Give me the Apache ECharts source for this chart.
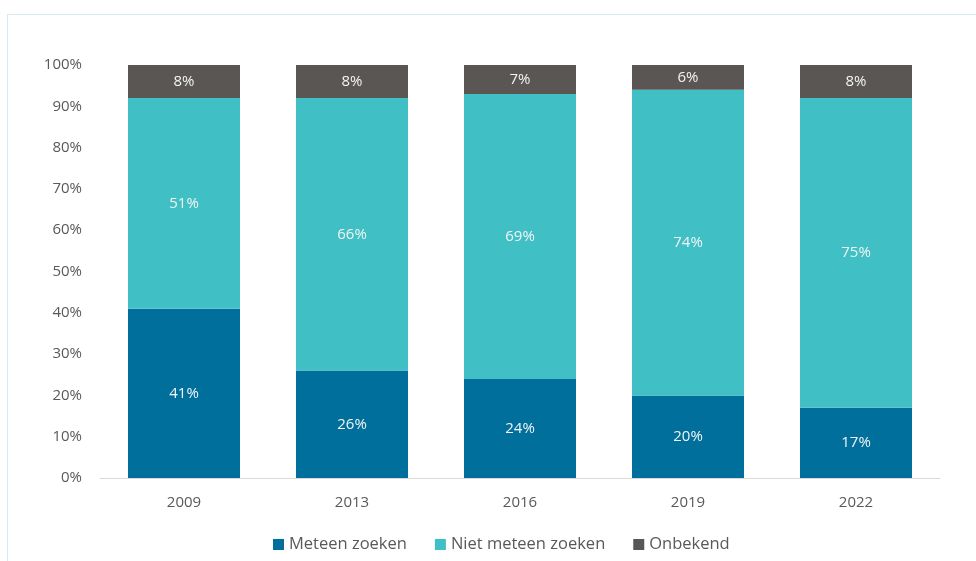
<!DOCTYPE html>
<html>
<head>
<meta charset="utf-8">
<script src="https://cdn.jsdelivr.net/npm/echarts@6/dist/echarts.min.js"></script>
<style>
html,body{margin:0;padding:0;background:#fff;}
#frame{position:absolute;left:7px;top:14px;width:969px;height:547px;border-left:1px solid #d8eaf2;border-top:1px solid #d8eaf2;box-sizing:border-box;}
#chart{position:absolute;left:0;top:0;width:976px;height:561px;}
</style>
</head>
<body>
<div id="frame"></div>
<div id="chart"></div>
<script>
const categories = ['2009', '2013', '2016', '2019', '2022'];
const meteenZoeken = [41, 26, 24, 20, 17];
const nietMeteenZoeken = [51, 66, 69, 74, 75];
const onbekend = [8, 8, 7, 6, 8];
const yTicks = [0, 10, 20, 30, 40, 50, 60, 70, 80, 90, 100];

const font = "'Open Sans', 'Noto Sans', sans-serif";
const chart = echarts.init(document.getElementById('chart'), null, {renderer: 'canvas'});
const labelStyle = {
  show: true, position: 'inside', color: '#f2f5f5', fontSize: 15, fontFamily: font,
  formatter: p => p.value + '%'
};
function mk(name, data, color) {
  return {
    name, type: 'bar', stack: 'total', data, barWidth: 112,
    itemStyle: {color}, label: labelStyle, emphasis: {disabled: true}
  };
}
chart.setOption({
  animation: false,
  textStyle: {fontFamily: font},
  grid: {left: 100, right: 36, top: 65, bottom: 83, containLabel: false},
  legend: {
    bottom: 3, left: 268, itemWidth: 11, itemHeight: 11, itemGap: 28,
    icon: 'rect',
    textStyle: {color: '#595959', fontSize: 16.5, fontFamily: font, padding: [0, 0, 0, 0]},
    data: ['Meteen zoeken', 'Niet meteen zoeken', 'Onbekend']
  },
  xAxis: {
    type: 'category', data: categories,
    axisLine: {lineStyle: {color: '#d9d9d9', width: 1}},
    axisTick: {show: false},
    axisLabel: {color: '#595959', fontSize: 15, margin: 17, fontFamily: font}
  },
  yAxis: {
    type: 'value', min: 0, max: 100, interval: 10,
    splitLine: {show: false}, axisLine: {show: false}, axisTick: {show: false},
    axisLabel: {color: '#595959', fontSize: 15, margin: 18, fontFamily: font,
      formatter: v => yTicks.includes(v) ? v + '%' : ''}
  },
  series: [
    mk('Meteen zoeken', meteenZoeken, '#016f9b'),
    mk('Niet meteen zoeken', nietMeteenZoeken, '#40bfc5'),
    mk('Onbekend', onbekend, '#5a5654')
  ]
});
</script>
</body>
</html>
